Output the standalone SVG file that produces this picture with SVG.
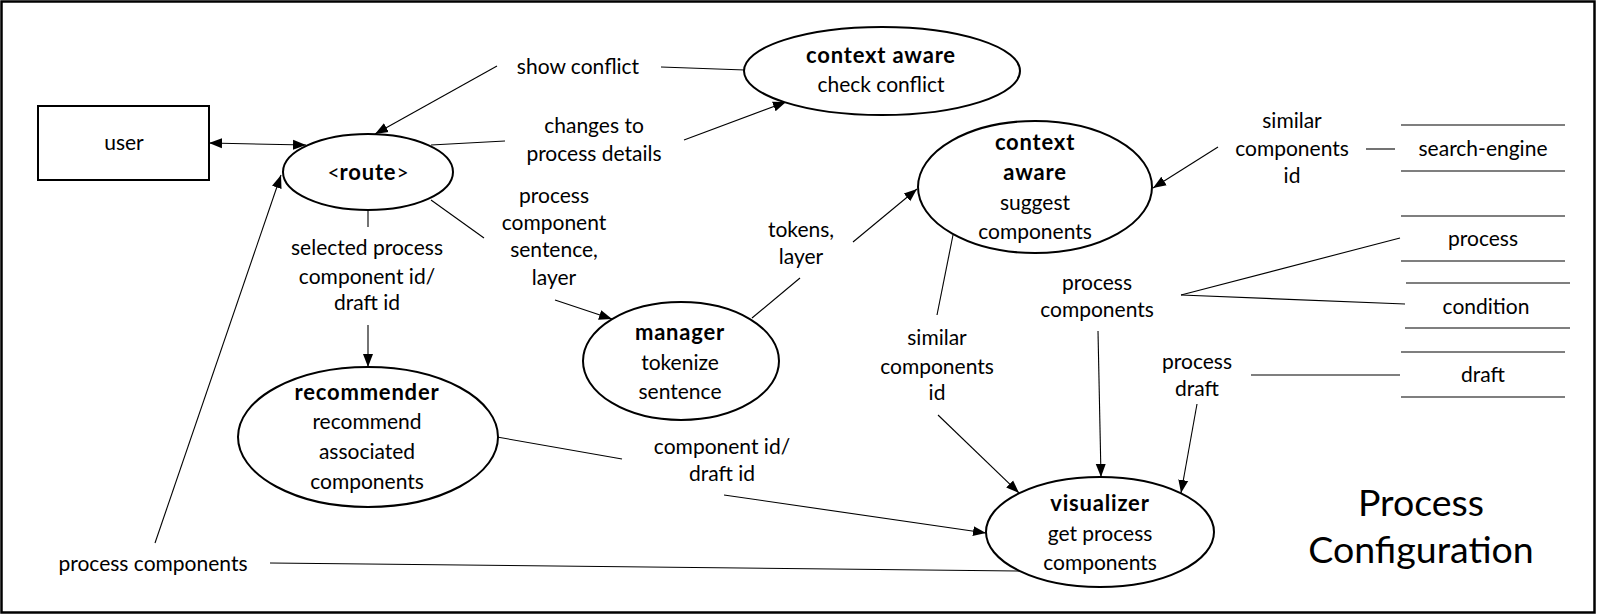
<svg xmlns="http://www.w3.org/2000/svg" width="1597" height="615" viewBox="0 0 1597 615">
<style>
text{font-family:Lato,"Liberation Sans",sans-serif;font-size:21px;fill:#000;text-anchor:middle}
.b{font-weight:bold;font-size:22px;letter-spacing:0.8px}
.t{font-size:37.5px}
.n{fill:#fff;stroke:#000;stroke-width:2}
.c line{stroke:#000;stroke-width:1.1}
.a{marker-end:url(#ah)}
.s line{stroke:#000;stroke-width:1.2}
</style>
<defs>
<marker id="ah" markerUnits="userSpaceOnUse" markerWidth="14" markerHeight="12" viewBox="0 0 14 12" refX="13" refY="6" orient="auto-start-reverse">
<path d="M0,1 L13,6 L0,11 Z" fill="#000"/>
</marker>
</defs>
<rect x="1.5" y="1.5" width="1593" height="611" fill="#fff" stroke="#000" stroke-width="2.5"/>

<g class="c" id="connectors">
<line x1="209" y1="143" x2="306" y2="145" marker-start="url(#ah)" marker-end="url(#ah)"/>
<line class="a" x1="497" y1="66" x2="375" y2="134"/>
<line x1="661" y1="67" x2="745" y2="70"/>
<line x1="431" y1="145" x2="505" y2="141"/>
<line class="a" x1="684" y1="140" x2="786" y2="102"/>
<line x1="431" y1="200" x2="484" y2="238"/>
<line class="a" x1="555" y1="300" x2="612" y2="319"/>
<line x1="368" y1="210" x2="368" y2="227"/>
<line class="a" x1="368" y1="325" x2="368" y2="367"/>
<line x1="752" y1="318" x2="800" y2="278"/>
<line class="a" x1="853" y1="242" x2="917" y2="189"/>
<line class="a" x1="1218" y1="147" x2="1153" y2="188"/>
<line x1="1366" y1="149" x2="1395" y2="149"/>
<line x1="1181" y1="295" x2="1400" y2="238"/>
<line x1="1181" y1="295" x2="1405" y2="304"/>
<line class="a" x1="1098" y1="331" x2="1101" y2="477"/>
<line x1="1251" y1="375" x2="1400" y2="375"/>
<line class="a" x1="1197" y1="404" x2="1181" y2="493"/>
<line x1="953" y1="235" x2="937" y2="315"/>
<line class="a" x1="938" y1="415" x2="1019" y2="493"/>
<line x1="497" y1="437" x2="622" y2="459"/>
<line class="a" x1="724" y1="495" x2="986" y2="533"/>
<line class="a" x1="155" y1="543" x2="281" y2="175"/>
<line x1="270" y1="563" x2="1019" y2="571"/>
</g>

<g id="labels">
<text x="578" y="74">show conflict</text>
<text x="594" y="133">changes to</text>
<text x="594" y="161">process details</text>
<text x="554" y="203">process</text>
<text x="554" y="230">component</text>
<text x="554" y="257">sentence,</text>
<text x="554" y="285">layer</text>
<text x="367" y="255">selected process</text>
<text x="367" y="284">component id/</text>
<text x="367" y="310">draft id</text>
<text x="801" y="237">tokens,</text>
<text x="801" y="264">layer</text>
<text x="1292" y="128">similar</text>
<text x="1292" y="156">components</text>
<text x="1292" y="183">id</text>
<text x="1097" y="290">process</text>
<text x="1097" y="317">components</text>
<text x="1197" y="369">process</text>
<text x="1197" y="396">draft</text>
<text x="937" y="345">similar</text>
<text x="937" y="374">components</text>
<text x="937" y="400">id</text>
<text x="722" y="454">component id/</text>
<text x="722" y="481">draft id</text>
<text x="153" y="571">process components</text>
<text class="t" x="1421" y="516">Process</text>
<text class="t" x="1421" y="563">Configuration</text>
</g>

<g id="user">
<rect x="38" y="106" width="171" height="74" fill="#fff" stroke="#000" stroke-width="2"/>
<text x="124" y="150">user</text>
</g>
<g id="route">
<ellipse class="n" cx="368" cy="172" rx="85" ry="38"/>
<text x="368" y="180">&lt;<tspan class="b">route</tspan>&gt;</text>
</g>
<g id="check-conflict">
<ellipse class="n" cx="882" cy="71" rx="138" ry="44"/>
<text class="b" x="881" y="63">context aware</text>
<text x="881" y="92">check conflict</text>
</g>
<g id="suggest-components">
<ellipse class="n" cx="1035" cy="187" rx="117" ry="66"/>
<text class="b" x="1035" y="150">context</text>
<text class="b" x="1035" y="180">aware</text>
<text x="1035" y="210">suggest</text>
<text x="1035" y="239">components</text>
</g>
<g id="manager">
<ellipse class="n" cx="681" cy="361" rx="98" ry="59"/>
<text class="b" x="680" y="340">manager</text>
<text x="680" y="370">tokenize</text>
<text x="680" y="399">sentence</text>
</g>
<g id="recommender">
<ellipse class="n" cx="368" cy="437" rx="130" ry="70"/>
<text class="b" x="367" y="400">recommender</text>
<text x="367" y="429">recommend</text>
<text x="367" y="459">associated</text>
<text x="367" y="489">components</text>
</g>
<g id="visualizer">
<ellipse class="n" cx="1100" cy="532" rx="114" ry="55"/>
<text class="b" x="1100" y="511">visualizer</text>
<text x="1100" y="541">get process</text>
<text x="1100" y="570">components</text>
</g>

<g class="s" id="search-engine">
<line x1="1401" y1="125" x2="1565" y2="125"/>
<line x1="1401" y1="171" x2="1565" y2="171"/>
<text x="1483" y="156">search-engine</text>
</g>
<g class="s" id="process-store">
<line x1="1401" y1="216" x2="1565" y2="216"/>
<line x1="1401" y1="261" x2="1565" y2="261"/>
<text x="1483" y="246">process</text>
</g>
<g class="s" id="condition-store">
<line x1="1406" y1="283" x2="1570" y2="283"/>
<line x1="1405" y1="328" x2="1570" y2="328"/>
<text x="1486" y="314">condition</text>
</g>
<g class="s" id="draft-store">
<line x1="1401" y1="352" x2="1565" y2="352"/>
<line x1="1401" y1="397" x2="1565" y2="397"/>
<text x="1483" y="382">draft</text>
</g>
</svg>
